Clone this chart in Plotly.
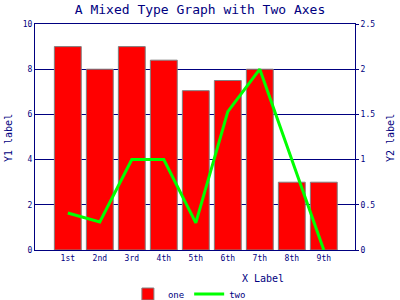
import plotly.graph_objects as go

categories = ["1st", "2nd", "3rd", "4th", "5th", "6th", "7th", "8th", "9th"]
one_values = [9.0, 8.0, 9.0, 8.4, 7.05, 7.5, 8.0, 3.0, 3.0]
two_values = [0.41, 0.31, 1.0, 1.0, 0.3, 1.53, 2.0, 1.0, 0.0]

NAVY = "#000080"
FONT = "DejaVu Sans Mono"

# plot area in pixels
PL, PR, PT, PB = 35, 355, 24, 250


def px_x(x):
    return (x - PL) / (PR - PL)


def px_y(y):
    return (PB - y) / (PB - PT)


fig = go.Figure()
fig.add_trace(go.Bar(
    x=categories, y=one_values, name="one",
    marker=dict(color="#ff0000", line=dict(color="#808080", width=1)),
    width=0.84, yaxis="y",
))
fig.add_trace(go.Scatter(
    x=categories, y=two_values, name="two", mode="lines",
    line=dict(color="#00ff00", width=3), yaxis="y2",
))

fig.update_layout(
    width=400, height=300,
    margin=dict(l=PL, r=400 - PR, t=PT, b=300 - PB, autoexpand=False),
    paper_bgcolor="white", plot_bgcolor="white",
    font=dict(family=FONT, color=NAVY, size=8),
    title=dict(text="A Mixed Type Graph with Two Axes", x=0.5, xanchor="center",
               y=1 - 9 / 300, yanchor="middle", yref="container",
               font=dict(family=FONT, size=13, color=NAVY)),
    xaxis=dict(range=[-1.025, 8.975], showgrid=False, showline=True, linecolor=NAVY,
               linewidth=1, mirror=True, ticks="", tickfont=dict(size=8, color=NAVY)),
    yaxis=dict(range=[0, 10], dtick=2, showgrid=True, gridcolor=NAVY, gridwidth=1,
               showline=True, linecolor=NAVY, linewidth=1, ticks="", zeroline=False,
               tickfont=dict(size=8, color=NAVY)),
    yaxis2=dict(range=[0, 2.5], dtick=0.5, overlaying="y", side="right", showgrid=False,
                showline=True, linecolor=NAVY, linewidth=1, ticks="outside", ticklen=3,
                tickcolor=NAVY, zeroline=False, tickfont=dict(size=8, color=NAVY)),
    showlegend=True,
    legend=dict(orientation="h", x=193 / 400, xanchor="center", y=px_y(294),
                yanchor="middle", yref="paper", font=dict(size=9, color=NAVY),
                itemwidth=30, bgcolor="rgba(0,0,0,0)", tracegroupgap=0),
    bargap=0.16,
)

fig.add_annotation(text="X Label", x=px_x(263), y=px_y(278), xref="paper", yref="paper",
                   showarrow=False, font=dict(family=FONT, size=10, color=NAVY),
                   xanchor="center", yanchor="middle")
fig.add_annotation(text="Y1 label", x=px_x(8), y=px_y(138), xref="paper", yref="paper",
                   showarrow=False, textangle=-90, font=dict(family=FONT, size=10, color=NAVY),
                   xanchor="center", yanchor="middle")
fig.add_annotation(text="Y2 label", x=px_x(390), y=px_y(138), xref="paper", yref="paper",
                   showarrow=False, textangle=-90, font=dict(family=FONT, size=10, color=NAVY),
                   xanchor="center", yanchor="middle")

fig.write_html("out.html")
